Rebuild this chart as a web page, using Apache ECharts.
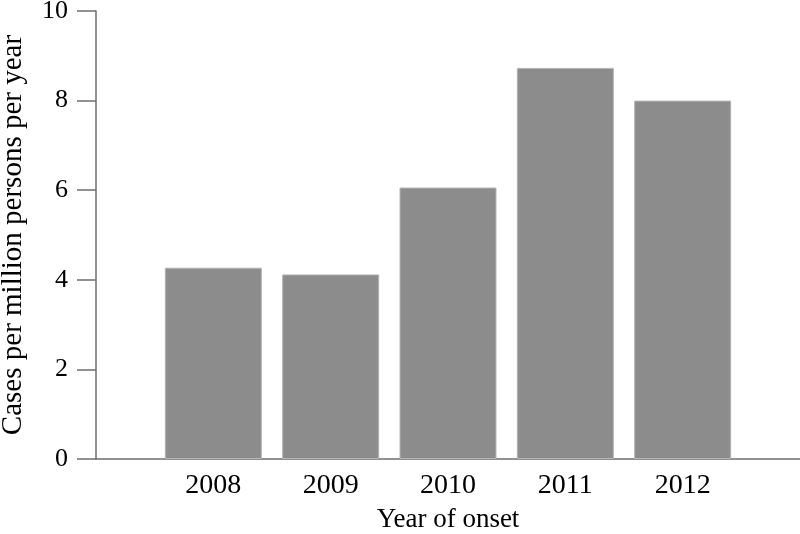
<!DOCTYPE html>
<html>
<head>
<meta charset="utf-8">
<script src="https://cdn.jsdelivr.net/npm/echarts@6/dist/echarts.min.js"></script>
<style>
  html, body { margin: 0; padding: 0; background: #fff; }
  #chart { width: 800px; height: 534px; }
</style>
</head>
<body>
<div id="chart"></div>
<script>
// data
const years = [2008, 2009, 2010, 2011, 2012];
const cases = [4.27, 4.12, 6.06, 8.73, 8.0];
const yTicks = [0, 2, 4, 6, 8, 10];

const font = 'Liberation Serif';

let myChart = echarts.init(document.getElementById('chart'));
let option = {
    animation: false,
    grid: {
        left: 96,
        right: 0,
        top: 11,
        bottom: 75,
        outerBoundsMode: 'none'
    },
    xAxis: {
        type: 'value',
        min: years[0] - 1,
        max: years[years.length - 1] + 1,
        interval: 1,
        name: 'Year of onset',
        nameLocation: 'middle',
        nameGap: 47,
        nameTextStyle: { fontFamily: font, fontSize: 27, color: '#000' },
        axisLine: { show: true, lineStyle: { color: '#6e6e6e', width: 1.5 } },
        axisTick: { show: false },
        splitLine: { show: false },
        axisLabel: {
            fontFamily: font,
            fontSize: 28,
            color: '#000',
            margin: 13,
            // only the years that have bars get a label
            formatter: v => years.includes(v) ? String(v) : ''
        }
    },
    yAxis: {
        type: 'value',
        min: yTicks[0],
        max: yTicks[yTicks.length - 1],
        interval: 2,
        name: 'Cases per million persons per year',
        nameLocation: 'middle',
        nameRotate: 90,
        nameGap: 68,
        nameTextStyle: { fontFamily: font, fontSize: 29, color: '#000' },
        axisLine: { show: true, lineStyle: { color: '#6e6e6e', width: 1.5 } },
        axisTick: { show: true, length: 19, lineStyle: { color: '#6e6e6e', width: 1.5 } },
        splitLine: { show: false },
        axisLabel: {
            fontFamily: font,
            fontSize: 26,
            color: '#000',
            margin: 28
        }
    },
    series: [
        {
            type: 'bar',
            data: years.map((y, i) => [y, cases[i]]),
            barWidth: 97,
            itemStyle: {
                color: '#8c8c8c',
                borderColor: '#b5b5b5',
                borderWidth: 1
            }
        }
    ]
};
myChart.setOption(option);
</script>
</body>
</html>
